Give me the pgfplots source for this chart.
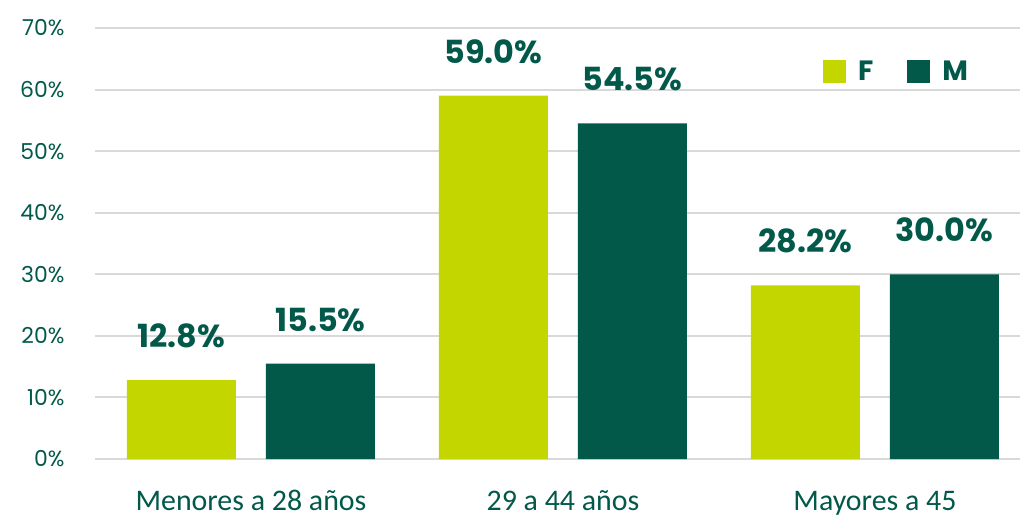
\documentclass[border=0pt]{standalone}
\usepackage{fontspec}
\setmainfont{Poppins}
\newfontfamily\catfont{Carlito}
\usepackage{pgfplots}
\pgfplotsset{compat=1.18}
\definecolor{lime}{HTML}{C4D600}
\definecolor{dkgreen}{HTML}{02594A}
\definecolor{gridgrey}{HTML}{D9D9D9}

\begin{document}
\begin{tikzpicture}
\begin{axis}[
    at={(0,0)}, anchor=south west,
    scale only axis,
    width=925bp, height=431bp,
    ybar=30bp,
    bar width=109bp,
    xmin=-0.5, xmax=2.465,
    ymin=0, ymax=70,
    ytick={0,10,...,70},
    yticklabel={\pgfmathprintnumber{\tick}\%},
    /pgf/number format/assume math mode=true,
    xtick={0,1,2},
    xticklabels={Menores a 28 años, 29 a 44 años, Mayores a 45},
    xticklabel style={font=\catfont\fontsize{30}{34}\selectfont, text=dkgreen, anchor=base, yshift=-51bp},
    yticklabel style={font=\fontsize{22}{26}\selectfont, text=dkgreen, xshift=-27bp},
    axis line style={draw=none},
    major tick length=0pt,
    ymajorgrids,
    grid style={draw=gridgrey, line width=2bp},
    nodes near coords={\pgfmathprintnumber[fixed, fixed zerofill, precision=1]{\pgfplotspointmeta}\%},
    nodes near coords style={font=\bfseries\fontsize{32}{36}\selectfont, text=dkgreen, anchor=south, inner sep=0pt, yshift=32bp},
    legend style={draw=none, at={(0.787,0.899)}, anchor=west, inner sep=0pt,
        legend columns=2, font=\bfseries\fontsize{28}{30}\selectfont, text=dkgreen,
        /tikz/every odd column/.append style={column sep=10bp},
        /tikz/every even column/.append style={column sep=32bp}},
    legend image code/.code={\fill[#1] (0bp,-11.5bp) rectangle (23bp,11.5bp);},
    clip=false,
]
\addplot[fill=lime, draw=none] coordinates {(0,12.8) (1,59.0) (2,28.2)};
\addplot[fill=dkgreen, draw=none] coordinates {(0,15.5) (1,54.5) (2,30.0)};
\legend{F, M}
\end{axis}
\pgfresetboundingbox
\path[use as bounding box] (-95bp,-60bp) rectangle (925bp,459bp);
\end{tikzpicture}
\end{document}
